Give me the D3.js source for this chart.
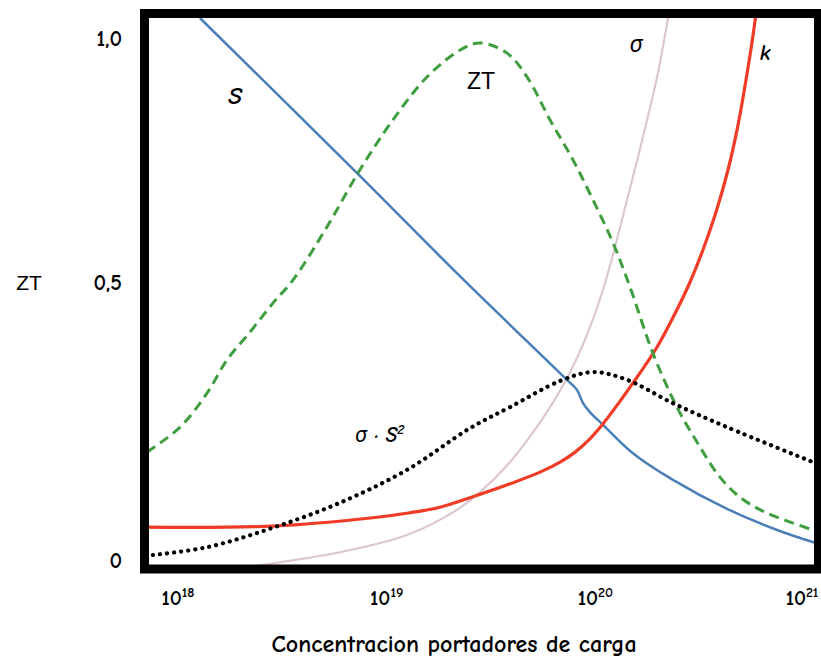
<!DOCTYPE html>
<html>
<head>
<meta charset="utf-8">
<script src="https://cdn.jsdelivr.net/npm/d3@7"></script>
<style>
  body { margin: 0; background: #fff; }
  .comic { font-family: "Comic Sans MS", "Comic Neue", "DejaVu Sans", sans-serif; font-weight: 700; }
  .plain { font-family: "Liberation Sans", Arial, sans-serif; }
  .greek { font-family: "Noto Sans", "DejaVu Sans", sans-serif; font-weight: 400; }
</style>
</head>
<body>
<div id="chart"></div>
<script>
// log10 of carrier concentration, values on the 0..1 ZT axis
var sLogN   = [18.105, 18.863, 19.351, 19.864, 19.912, 19.941, 19.974, 20.037, 20.180, 20.372, 20.631, 20.871, 21.053];
var sVal    = [1.041, 0.721, 0.512, 0.324, 0.306, 0.282, 0.266, 0.243, 0.192, 0.144, 0.092, 0.054, 0.031];

var ztLogN  = [17.851, 18.010, 18.139, 18.235, 18.345, 18.455, 18.551, 18.714, 18.872, 19.030, 19.193, 19.351, 19.447,
               19.577, 19.673, 19.783, 19.893, 19.989, 20.085, 20.166, 20.276, 20.391, 20.502, 20.597, 20.693, 20.813, 21.043];
var ztVal   = [0.194, 0.239, 0.300, 0.360, 0.410, 0.462, 0.504, 0.613, 0.730, 0.832, 0.920, 0.975, 0.990,
               0.969, 0.920, 0.832, 0.750, 0.668, 0.580, 0.491, 0.372, 0.275, 0.203, 0.149, 0.113, 0.086, 0.054];

var sigLogN = [18.369, 18.489, 18.776, 19.097, 19.327, 19.447, 19.591, 19.749, 19.864, 19.960, 20.037, 20.152, 20.228, 20.296, 20.343, 20.363];
var sigVal  = [-0.011, -0.004, 0.014, 0.045, 0.088, 0.122, 0.176, 0.255, 0.327, 0.405, 0.486, 0.668, 0.797, 0.920, 1.027, 1.078];

var kLogN   = [17.842, 18.455, 18.934, 19.112, 19.256, 19.399, 19.591, 19.735, 19.831, 19.903, 19.974, 20.037, 20.180, 20.296, 20.391,
               20.454, 20.516, 20.578, 20.636, 20.684, 20.722, 20.756, 20.775];
var kVal    = [0.059, 0.061, 0.076, 0.085, 0.095, 0.112, 0.137, 0.158, 0.176, 0.194, 0.218, 0.245, 0.318, 0.383, 0.450,
               0.500, 0.566, 0.643, 0.730, 0.822, 0.914, 1.006, 1.068];

var pfLogN  = [17.880, 18.139, 18.455, 18.776, 19.097, 19.399, 19.591, 19.831, 19.989, 20.152, 20.372, 20.631, 21.043];
var pfVal   = [0.009, 0.023, 0.058, 0.103, 0.162, 0.237, 0.275, 0.322, 0.338, 0.324, 0.282, 0.239, 0.176];

var yTicks = [0, 0.5, 1];
var yTickLabels = ["0", "0,5", "1,0"];
var xTicks = [18, 19, 20, 21];

var width = 821, height = 661;

var svg = d3.select("#chart").append("svg")
    .attr("width", width)
    .attr("height", height);

var x = d3.scaleLog().domain([1e18, 1e21]).range([178, 804]);
var y = d3.scaleLinear().domain([0, 0.5, 1]).range([560, 282, 38]);

var frame = {left: 144.5, top: 13.5, right: 818.5, bottom: 569};

svg.append("defs").append("clipPath")
    .attr("id", "plotClip")
    .append("rect")
    .attr("x", frame.left)
    .attr("y", frame.top)
    .attr("width", frame.right - frame.left)
    .attr("height", frame.bottom - frame.top);

function toPoints(logs, vals) {
    return logs.map(function (d, i) {
        return [Math.pow(10, d), vals[i]];
    });
}

var line = d3.line()
    .x(function (d) { return x(d[0]); })
    .y(function (d) { return y(d[1]); })
    .curve(d3.curveCatmullRom.alpha(0.5));

var series = [
    {name: "sigma", pts: toPoints(sigLogN, sigVal), color: "#dcc6cf", width: 2.2, dash: null, cap: "butt"},
    {name: "S", pts: toPoints(sLogN, sVal), color: "#4a7fb8", width: 2.5, dash: null, cap: "butt"},
    {name: "k", pts: toPoints(kLogN, kVal), color: "#f03b26", width: 3.2, dash: null, cap: "butt"},
    {name: "ZT", pts: toPoints(ztLogN, ztVal), color: "#3f9e3f", width: 3, dash: "10,6", cap: "butt"},
    {name: "pf", pts: toPoints(pfLogN, pfVal), color: "#000", width: 4.2, dash: "0.1,7", cap: "round"}
];

var plot = svg.append("g").attr("clip-path", "url(#plotClip)");

plot.selectAll(".curve")
    .data(series)
    .enter()
    .append("path")
    .attr("class", "curve")
    .attr("fill", "none")
    .attr("stroke", function (d) { return d.color; })
    .attr("stroke-width", function (d) { return d.width; })
    .attr("stroke-dasharray", function (d) { return d.dash; })
    .attr("stroke-linecap", function (d) { return d.cap; })
    .attr("d", function (d) { return line(d.pts); });

// thick frame
svg.append("rect")
    .attr("x", frame.left)
    .attr("y", frame.top)
    .attr("width", frame.right - frame.left)
    .attr("height", frame.bottom - frame.top)
    .attr("fill", "none")
    .attr("stroke", "#000")
    .attr("stroke-width", 9);

// y tick labels
svg.selectAll(".ytick")
    .data(yTicks)
    .enter()
    .append("text")
    .attr("class", "ytick comic")
    .attr("x", 122)
    .attr("y", function (d) { return y(d) + 8; })
    .attr("text-anchor", "end")
    .attr("font-size", 22)
    .text(function (d, i) { return yTickLabels[i]; });

svg.append("text")
    .attr("class", "plain")
    .attr("x", 29)
    .attr("y", y(0.5) + 8)
    .attr("text-anchor", "middle")
    .attr("font-size", 21)
    .text("ZT");

// x tick labels: 10 with exponent
var xt = svg.selectAll(".xtick")
    .data(xTicks)
    .enter()
    .append("text")
    .attr("class", "xtick comic")
    .attr("x", function (d) { return Math.min(x(Math.pow(10, d)), 802); })
    .attr("y", 605)
    .attr("text-anchor", "middle")
    .attr("font-size", 21);

xt.append("tspan").text("10");
xt.append("tspan")
    .attr("font-size", 14)
    .attr("dy", -8)
    .text(function (d) { return d; });

svg.append("text")
    .attr("class", "comic")
    .attr("x", 454)
    .attr("y", 652)
    .attr("text-anchor", "middle")
    .attr("font-size", 24)
    .text("Concentracion portadores de carga");

// curve labels
var labels = [
    {t: "S", x: 235, y: 104, size: 25, italic: true, cls: "comic"},
    {t: "ZT", x: 481, y: 89, size: 23, italic: false, cls: "plain"},
    {t: "σ", x: 636, y: 52, size: 23, italic: true, cls: "greek"},
    {t: "k", x: 765, y: 60, size: 22, italic: true, cls: "comic"}
];

svg.selectAll(".lbl")
    .data(labels)
    .enter()
    .append("text")
    .attr("class", function (d) { return "lbl " + d.cls; })
    .attr("x", function (d) { return d.x; })
    .attr("y", function (d) { return d.y; })
    .attr("text-anchor", "middle")
    .attr("font-size", function (d) { return d.size; })
    .attr("font-style", function (d) { return d.italic ? "italic" : "normal"; })
    .text(function (d) { return d.t; });

var pfLabel = svg.append("text")
    .attr("class", "comic")
    .attr("x", 355)
    .attr("y", 442)
    .attr("font-size", 21)
    .attr("font-style", "italic");
pfLabel.append("tspan").attr("class", "greek").text("σ");
pfLabel.append("tspan").text(" · S");
pfLabel.append("tspan").attr("font-size", 14).attr("dy", -8).text("2");
</script>
</body>
</html>
